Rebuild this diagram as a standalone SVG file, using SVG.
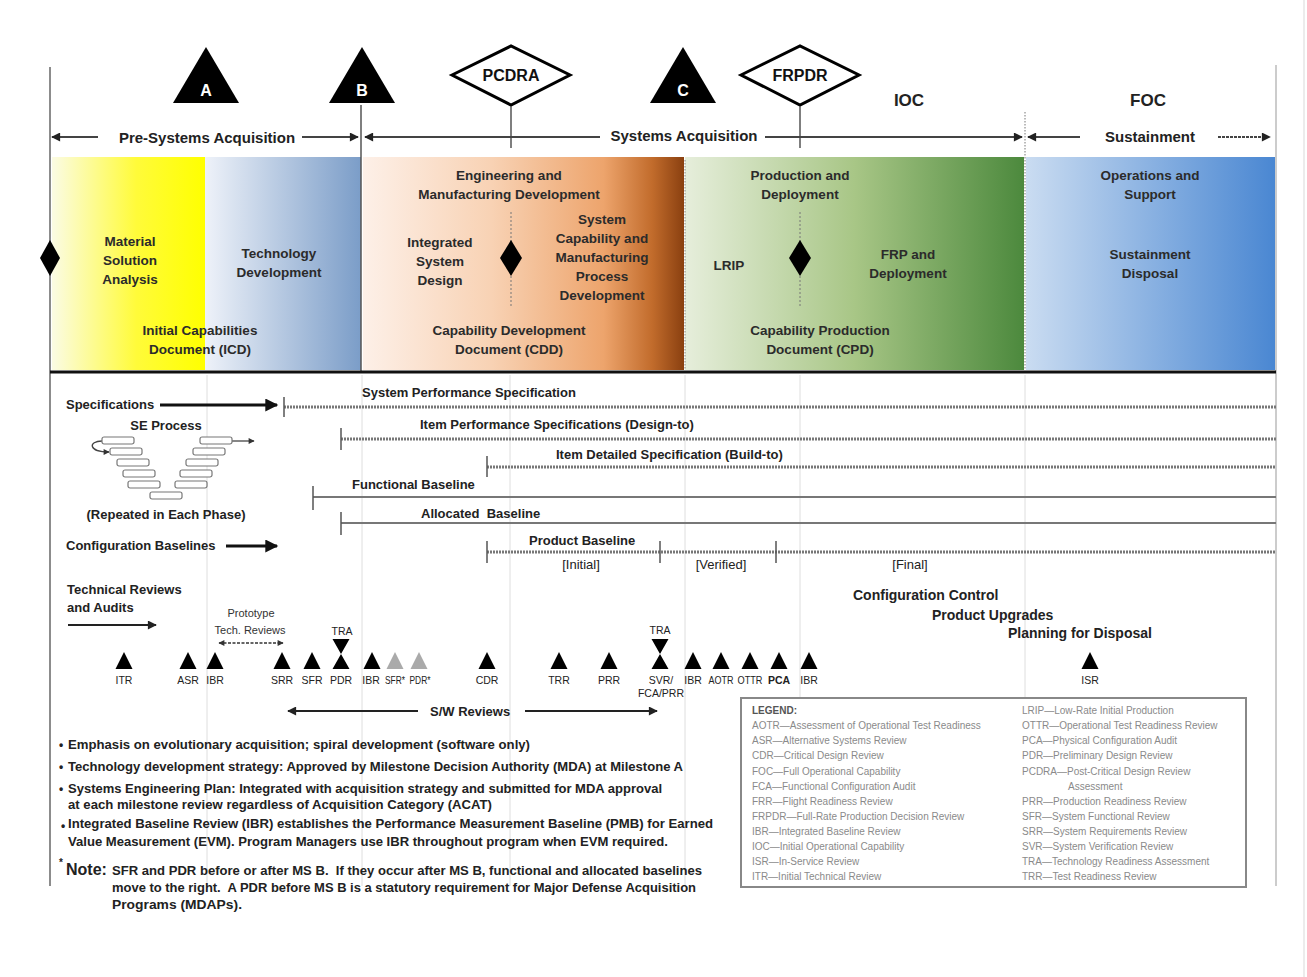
<svg xmlns="http://www.w3.org/2000/svg" width="1307" height="977" viewBox="0 0 1307 977">
<defs>
  <linearGradient id="gYel" x1="0" y1="0" x2="1" y2="0">
    <stop offset="0" stop-color="#fbfbe4"/><stop offset="0.55" stop-color="#fffb3a"/><stop offset="1" stop-color="#ffff00"/>
  </linearGradient>
  <linearGradient id="gTech" x1="0" y1="0" x2="1" y2="0">
    <stop offset="0" stop-color="#eef2f9"/><stop offset="1" stop-color="#7b9dc8"/>
  </linearGradient>
  <linearGradient id="gEmd" x1="0" y1="0" x2="1" y2="0">
    <stop offset="0" stop-color="#fdf0e8"/><stop offset="0.4" stop-color="#f8d2b4"/><stop offset="0.75" stop-color="#eda46c"/><stop offset="0.9" stop-color="#c26c2c"/><stop offset="1" stop-color="#8a4010"/>
  </linearGradient>
  <linearGradient id="gProd" x1="0" y1="0" x2="1" y2="0">
    <stop offset="0" stop-color="#e6eedb"/><stop offset="0.5" stop-color="#a8c686"/><stop offset="1" stop-color="#4c893d"/>
  </linearGradient>
  <linearGradient id="gSust" x1="0" y1="0" x2="1" y2="0">
    <stop offset="0" stop-color="#cadcf1"/><stop offset="1" stop-color="#4a87d2"/>
  </linearGradient>
  <marker id="ah" viewBox="0 0 10 10" refX="9" refY="5" markerWidth="10" markerHeight="9" markerUnits="userSpaceOnUse" orient="auto-start-reverse">
    <path d="M0,0 L10,5 L0,10 z" fill="#222"/>
  </marker>
  <marker id="ahb" viewBox="0 0 10 10" refX="9" refY="5" markerWidth="14" markerHeight="13" markerUnits="userSpaceOnUse" orient="auto-start-reverse">
    <path d="M0,0 L10,5 L0,10 z" fill="#111"/>
  </marker>
  <marker id="ahs" viewBox="0 0 10 10" refX="9" refY="5" markerWidth="7" markerHeight="6" markerUnits="userSpaceOnUse" orient="auto-start-reverse">
    <path d="M0,0 L10,5 L0,10 z" fill="#333"/>
  </marker>
  <path id="tri" d="M0,-17 L8.5,0 L-8.5,0 Z"/>
  <path id="hg" d="M-8.5,-30 H8.5 L0,-15 Z M0,-15 L8.5,0 H-8.5 Z"/>
  <rect id="vb" width="32" height="7" rx="2"/>
</defs>
<style>
  text{font-family:"Liberation Sans",Arial,Helvetica,sans-serif;}
  .ms{font-size:16px;font-weight:bold;fill:#fff;text-anchor:middle}
  .dm{font-size:16px;font-weight:bold;fill:#111;text-anchor:middle}
  .hd{font-size:15px;font-weight:bold;fill:#222;text-anchor:middle}
  .big{font-size:17px;font-weight:bold;fill:#222;text-anchor:middle}
  .ph{font-size:13.5px;font-weight:bold;fill:#2b2b2b;text-anchor:middle}
  .sp{font-size:13px;font-weight:bold;fill:#222}
  .spc{font-size:13px;font-weight:bold;fill:#222;text-anchor:middle}
  .rv{font-size:10.5px;fill:#222;text-anchor:middle}
  .pt{font-size:11px;fill:#333;text-anchor:middle}
  .cc{font-size:14px;font-weight:bold;fill:#222}
  .lg{font-size:10px;fill:#8a8a8a}
  .nt{font-size:12px;font-weight:bold;fill:#222}
  .grid{stroke:#dedede;stroke-width:1}
  .frame{stroke:#666;stroke-width:1.5;fill:none}
  .arr{stroke:#444;stroke-width:2;fill:none}
  .tick{stroke:#555;stroke-width:1.5}
  .specl{stroke:#777;stroke-width:3;stroke-dasharray:2 1;fill:none}
  .basel{stroke:#777;stroke-width:2;fill:none}
  .vbox{fill:#fff;stroke:#777;stroke-width:1.2}
</style>

<!-- faint right border -->
<line x1="1304" y1="0" x2="1304" y2="977" stroke="#e6e6e6" stroke-width="1.5"/>

<!-- background grid lines in lower section -->
<g id="gridlines">
  <line class="grid" x1="207" y1="375" x2="207" y2="886"/>
  <line class="grid" x1="362" y1="375" x2="362" y2="886"/>
  <line class="grid" x1="510" y1="375" x2="510" y2="886"/>
  <line class="grid" x1="685" y1="375" x2="685" y2="886"/>
  <line class="grid" x1="800" y1="375" x2="800" y2="886"/>
  <line class="grid" x1="1025" y1="375" x2="1025" y2="886"/>
</g>

<!-- phase bands -->
<g id="phase-msa">
  <rect x="52" y="157" width="153" height="213" fill="url(#gYel)"/>
  <text class="ph" x="130" y="246">Material</text>
  <text class="ph" x="130" y="265">Solution</text>
  <text class="ph" x="130" y="284">Analysis</text>
</g>
<g id="phase-td">
  <rect x="205" y="157" width="156" height="213" fill="url(#gTech)"/>
  <text class="ph" x="279" y="258">Technology</text>
  <text class="ph" x="279" y="277">Development</text>
</g>
<g id="doc-icd">
  <text class="ph" x="200" y="335">Initial Capabilities</text>
  <text class="ph" x="200" y="354">Document (ICD)</text>
</g>
<g id="phase-emd">
  <rect x="363" y="157" width="321" height="213" fill="url(#gEmd)"/>
  <text class="ph" x="509" y="180">Engineering and</text>
  <text class="ph" x="509" y="199">Manufacturing Development</text>
  <text class="ph" x="440" y="247">Integrated</text>
  <text class="ph" x="440" y="266">System</text>
  <text class="ph" x="440" y="285">Design</text>
  <text class="ph" x="602" y="224">System</text>
  <text class="ph" x="602" y="243">Capability and</text>
  <text class="ph" x="602" y="262">Manufacturing</text>
  <text class="ph" x="602" y="281">Process</text>
  <text class="ph" x="602" y="300">Development</text>
  <text class="ph" x="509" y="335">Capability Development</text>
  <text class="ph" x="509" y="354">Document (CDD)</text>
  <line x1="511" y1="212" x2="511" y2="308" stroke="#777" stroke-width="1" stroke-dasharray="2 2"/>
  <polygon points="511,240 522,258 511,276 500,258" fill="#000"/>
</g>
<g id="phase-pd">
  <rect x="685" y="157" width="339" height="213" fill="url(#gProd)"/>
  <line x1="685" y1="160" x2="685" y2="370" stroke="#888" stroke-width="1" stroke-dasharray="1.5 1.5"/>
  <text class="ph" x="800" y="180">Production and</text>
  <text class="ph" x="800" y="199">Deployment</text>
  <line x1="800" y1="212" x2="800" y2="306" stroke="#777" stroke-width="1" stroke-dasharray="2 2"/>
  <polygon points="800,240 811,258 800,276 789,258" fill="#000"/>
  <text class="ph" x="729" y="270">LRIP</text>
  <text class="ph" x="908" y="259">FRP and</text>
  <text class="ph" x="908" y="278">Deployment</text>
  <text class="ph" x="820" y="335">Capability Production</text>
  <text class="ph" x="820" y="354">Document (CPD)</text>
</g>
<g id="phase-os">
  <rect x="1026" y="157" width="249" height="213" fill="url(#gSust)"/>
  <line x1="1025" y1="112" x2="1025" y2="370" stroke="#777" stroke-width="1" stroke-dasharray="1.5 1.5"/>
  <text class="ph" x="1150" y="180">Operations and</text>
  <text class="ph" x="1150" y="199">Support</text>
  <text class="ph" x="1150" y="259">Sustainment</text>
  <text class="ph" x="1150" y="278">Disposal</text>
</g>

<!-- frame lines -->
<g id="frame">
  <line class="frame" x1="50" y1="67" x2="50" y2="886"/>
  <line x1="1276" y1="65" x2="1276" y2="886" stroke="#bbb" stroke-width="1.5"/>
  <line x1="361" y1="105" x2="361" y2="372" stroke="#555" stroke-width="1.5"/>
  <line x1="50" y1="372" x2="1276" y2="372" stroke="#111" stroke-width="3"/>
  <polygon points="50,240 60,258 50,276 40,258" fill="#000"/>
</g>

<!-- milestones -->
<g id="ms-a">
  <polygon points="206,47 239,103 173,103" fill="#000"/>
  <text class="ms" x="206" y="96">A</text>
</g>
<g id="ms-b">
  <polygon points="362,47 395,103 329,103" fill="#000"/>
  <text class="ms" x="362" y="96">B</text>
</g>
<g id="ms-pcdra">
  <polygon points="452,75 511,46 570,75 511,105" fill="#fff" stroke="#000" stroke-width="3" stroke-linejoin="miter"/>
  <text class="dm" x="511" y="81">PCDRA</text>
  <line x1="511" y1="106" x2="511" y2="148" stroke="#555" stroke-width="1.5"/>
</g>
<g id="ms-c">
  <polygon points="683,47 716,103 650,103" fill="#000"/>
  <text class="ms" x="683" y="96">C</text>
</g>
<g id="ms-frpdr">
  <polygon points="741,75 800,46 859,75 800,105" fill="#fff" stroke="#000" stroke-width="3"/>
  <text class="dm" x="800" y="81">FRPDR</text>
  <line x1="800" y1="106" x2="800" y2="148" stroke="#555" stroke-width="1.5"/>
</g>
<g id="ioc"><text class="big" x="909" y="106">IOC</text></g>
<g id="foc"><text class="big" x="1148" y="106">FOC</text></g>

<!-- acquisition span labels -->
<g id="span-labels">
  <text class="hd" x="207" y="143">Pre-Systems Acquisition</text>
  <text class="hd" x="684" y="141">Systems Acquisition</text>
  <text class="hd" x="1150" y="142">Sustainment</text>
</g>

<!-- connectors -->
<g id="connectors">
  <line class="arr" x1="98" y1="137" x2="52" y2="137" marker-end="url(#ah)"/>
  <line class="arr" x1="302" y1="137" x2="358" y2="137" marker-end="url(#ah)"/>
  <line class="arr" x1="600" y1="137" x2="365" y2="137" marker-end="url(#ah)"/>
  <line class="arr" x1="765" y1="137" x2="1022" y2="137" marker-end="url(#ah)"/>
  <line class="arr" x1="1080" y1="137" x2="1028" y2="137" marker-end="url(#ah)"/>
  <line class="arr" x1="1218" y1="137" x2="1270" y2="137" stroke-dasharray="3 1" marker-end="url(#ah)"/>

  <line x1="160" y1="405" x2="277" y2="405" stroke="#111" stroke-width="3" marker-end="url(#ahb)"/>
  <line x1="226" y1="546" x2="277" y2="546" stroke="#111" stroke-width="3" marker-end="url(#ahb)"/>
  <line x1="68" y1="625" x2="156" y2="625" stroke="#222" stroke-width="2" marker-end="url(#ah)"/>
  <line x1="219" y1="643" x2="283" y2="643" stroke="#333" stroke-width="1.5" stroke-dasharray="3 1.5" marker-start="url(#ahs)" marker-end="url(#ahs)"/>
  <line x1="418" y1="711" x2="288" y2="711" stroke="#222" stroke-width="2" marker-end="url(#ah)"/>
  <line x1="525" y1="711" x2="657" y2="711" stroke="#222" stroke-width="2" marker-end="url(#ah)"/>

  <!-- SE process V arrows -->
  <path d="M102,441 C88,441 88,452 109,452" fill="none" stroke="#444" stroke-width="1.3" marker-end="url(#ahs)"/>
  <line x1="232" y1="441" x2="254" y2="441" stroke="#444" stroke-width="1.3" marker-end="url(#ahs)"/>
</g>

<!-- specifications -->
<g id="specifications">
  <text class="sp" x="66" y="409">Specifications</text>
  <text class="sp" x="362" y="397">System Performance Specification</text>
  <line class="specl" x1="284" y1="407" x2="1276" y2="407"/>
  <line class="tick" x1="284" y1="397" x2="284" y2="417"/>
  <text class="sp" x="420" y="429">Item Performance Specifications (Design-to)</text>
  <line class="specl" x1="341" y1="439" x2="1276" y2="439"/>
  <line class="tick" x1="341" y1="428" x2="341" y2="450"/>
  <text class="sp" x="556" y="459">Item Detailed Specification (Build-to)</text>
  <line class="specl" x1="487" y1="467" x2="1276" y2="467"/>
  <line class="tick" x1="487" y1="456" x2="487" y2="477"/>
</g>

<g id="se-process">
  <text class="spc" x="166" y="430">SE Process</text>
  <use href="#vb" class="vbox" x="102" y="437"/>
  <use href="#vb" class="vbox" x="110" y="448"/>
  <use href="#vb" class="vbox" x="117" y="459"/>
  <use href="#vb" class="vbox" x="123" y="470"/>
  <use href="#vb" class="vbox" x="128" y="481"/>
  <use href="#vb" class="vbox" x="150" y="492"/>
  <use href="#vb" class="vbox" x="175" y="481"/>
  <use href="#vb" class="vbox" x="180" y="470"/>
  <use href="#vb" class="vbox" x="186" y="459"/>
  <use href="#vb" class="vbox" x="193" y="448"/>
  <use href="#vb" class="vbox" x="200" y="437"/>
  <text class="spc" x="166" y="519">(Repeated in Each Phase)</text>
</g>

<g id="baselines">
  <text class="sp" x="66" y="550">Configuration Baselines</text>
  <text class="sp" x="352" y="489">Functional Baseline</text>
  <line class="basel" x1="313" y1="497" x2="1276" y2="497"/>
  <line class="tick" x1="313" y1="486" x2="313" y2="510"/>
  <text class="sp" x="421" y="518" xml:space="preserve">Allocated  Baseline</text>
  <line class="basel" x1="341" y1="523" x2="1276" y2="523"/>
  <line class="tick" x1="341" y1="512" x2="341" y2="535"/>
  <text class="sp" x="529" y="545">Product Baseline</text>
  <line class="specl" x1="487" y1="552" x2="1276" y2="552"/>
  <line class="tick" x1="487" y1="541" x2="487" y2="563"/>
  <line class="tick" x1="660" y1="541" x2="660" y2="563"/>
  <line class="tick" x1="776" y1="541" x2="776" y2="563"/>
  <text class="spc" x="581" y="569" style="font-weight:normal">[Initial]</text>
  <text class="spc" x="721" y="569" style="font-weight:normal">[Verified]</text>
  <text class="spc" x="910" y="569" style="font-weight:normal">[Final]</text>
</g>

<!-- technical reviews -->
<g id="tech-reviews">
  <text class="sp" x="67" y="594">Technical Reviews</text>
  <text class="sp" x="67" y="612">and Audits</text>
  <text class="pt" x="251" y="617">Prototype</text>
  <text class="pt" x="250" y="634">Tech. Reviews</text>

  <use href="#tri" x="124" y="669"/><text class="rv" x="124" y="684">ITR</text>
  <use href="#tri" x="188" y="669"/><text class="rv" x="188" y="684">ASR</text>
  <use href="#tri" x="215" y="669"/><text class="rv" x="215" y="684">IBR</text>
  <use href="#tri" x="282" y="669"/><text class="rv" x="282" y="684">SRR</text>
  <use href="#tri" x="312" y="669"/><text class="rv" x="312" y="684">SFR</text>
  <text class="rv" x="342" y="635">TRA</text>
  <use href="#hg" x="341" y="669"/><text class="rv" x="341" y="684">PDR</text>
  <use href="#tri" x="372" y="669"/><text class="rv" x="371" y="684">IBR</text>
  <use href="#tri" x="395" y="669" fill="#aaa"/><text class="rv" x="395" y="684" textLength="20" lengthAdjust="spacingAndGlyphs">SFR*</text>
  <use href="#tri" x="419" y="669" fill="#aaa"/><text class="rv" x="420" y="684" textLength="21" lengthAdjust="spacingAndGlyphs">PDR*</text>
  <use href="#tri" x="487" y="669"/><text class="rv" x="487" y="684">CDR</text>
  <use href="#tri" x="559" y="669"/><text class="rv" x="559" y="684">TRR</text>
  <use href="#tri" x="609" y="669"/><text class="rv" x="609" y="684">PRR</text>
  <text class="rv" x="660" y="634">TRA</text>
  <use href="#hg" x="660" y="669"/><text class="rv" x="661" y="684">SVR/</text>
  <text class="rv" x="661" y="697">FCA/PRR</text>
  <use href="#tri" x="693" y="669"/><text class="rv" x="693" y="684">IBR</text>
  <use href="#tri" x="721" y="669"/><text class="rv" x="721" y="684" textLength="25" lengthAdjust="spacingAndGlyphs">AOTR</text>
  <use href="#tri" x="750" y="669"/><text class="rv" x="750" y="684" textLength="25" lengthAdjust="spacingAndGlyphs">OTTR</text>
  <use href="#tri" x="779" y="669"/><text class="rv" x="779" y="684" font-weight="bold">PCA</text>
  <use href="#tri" x="809" y="669"/><text class="rv" x="809" y="684">IBR</text>
  <use href="#tri" x="1090" y="669"/><text class="rv" x="1090" y="684">ISR</text>
  <text class="sp" x="430" y="716">S/W Reviews</text>
</g>

<g id="sustainment-activities">
  <text class="cc" x="853" y="600">Configuration Control</text>
  <text class="cc" x="932" y="620">Product Upgrades</text>
  <text class="cc" x="1008" y="638">Planning for Disposal</text>
</g>

<!-- legend -->
<g id="legend">
  <rect x="741" y="698" width="505" height="189" fill="#fff" stroke="#888" stroke-width="2"/>
  <text class="lg" x="752" y="714" style="font-weight:bold;fill:#555">LEGEND:</text>
  <text class="lg" x="752" y="729">AOTR—Assessment of Operational Test Readiness</text>
  <text class="lg" x="752" y="744">ASR—Alternative Systems Review</text>
  <text class="lg" x="752" y="759">CDR—Critical Design Review</text>
  <text class="lg" x="752" y="775">FOC—Full Operational Capability</text>
  <text class="lg" x="752" y="790">FCA—Functional Configuration Audit</text>
  <text class="lg" x="752" y="805">FRR—Flight Readiness Review</text>
  <text class="lg" x="752" y="820">FRPDR—Full-Rate Production Decision Review</text>
  <text class="lg" x="752" y="835">IBR—Integrated Baseline Review</text>
  <text class="lg" x="752" y="850">IOC—Initial Operational Capability</text>
  <text class="lg" x="752" y="865">ISR—In-Service Review</text>
  <text class="lg" x="752" y="880">ITR—Initial Technical Review</text>
  <text class="lg" x="1022" y="714">LRIP—Low-Rate Initial Production</text>
  <text class="lg" x="1022" y="729">OTTR—Operational Test Readiness Review</text>
  <text class="lg" x="1022" y="744">PCA—Physical Configuration Audit</text>
  <text class="lg" x="1022" y="759">PDR—Preliminary Design Review</text>
  <text class="lg" x="1022" y="775">PCDRA—Post-Critical Design Review</text>
  <text class="lg" x="1068" y="790">Assessment</text>
  <text class="lg" x="1022" y="805">PRR—Production Readiness Review</text>
  <text class="lg" x="1022" y="820">SFR—System Functional Review</text>
  <text class="lg" x="1022" y="835">SRR—System Requirements Review</text>
  <text class="lg" x="1022" y="850">SVR—System Verification Review</text>
  <text class="lg" x="1022" y="865">TRA—Technology Readiness Assessment</text>
  <text class="lg" x="1022" y="880">TRR—Test Readiness Review</text>
</g>

<!-- notes -->
<g id="notes">
  <text class="nt" x="59" y="749">•</text>
  <text class="nt" x="68" y="749" textLength="462" lengthAdjust="spacingAndGlyphs">Emphasis on evolutionary acquisition; spiral development (software only)</text>
  <text class="nt" x="59" y="771">•</text>
  <text class="nt" x="68" y="771" textLength="615" lengthAdjust="spacingAndGlyphs">Technology development strategy: Approved by Milestone Decision Authority (MDA) at Milestone A</text>
  <text class="nt" x="59" y="793">•</text>
  <text class="nt" x="68" y="793" textLength="594" lengthAdjust="spacingAndGlyphs">Systems Engineering Plan: Integrated with acquisition strategy and submitted for MDA approval</text>
  <text class="nt" x="68" y="809" textLength="424" lengthAdjust="spacingAndGlyphs">at each milestone review regardless of Acquisition Category (ACAT)</text>
  <text class="nt" x="61" y="830">•</text>
  <text class="nt" x="68" y="828" textLength="645" lengthAdjust="spacingAndGlyphs">Integrated Baseline Review (IBR) establishes the Performance Measurement Baseline (PMB) for Earned</text>
  <text class="nt" x="68" y="846" textLength="600" lengthAdjust="spacingAndGlyphs">Value Measurement (EVM). Program Managers use IBR throughout program when EVM required.</text>
  <text x="59" y="866" style="font-size:10px;font-weight:bold;fill:#222">*</text>
  <text x="66" y="875" style="font-size:16px;font-weight:bold;fill:#222">Note:</text>
  <text class="nt" x="112" y="875" textLength="590" lengthAdjust="spacingAndGlyphs" xml:space="preserve">SFR and PDR before or after MS B.  If they occur after MS B, functional and allocated baselines</text>
  <text class="nt" x="112" y="892" textLength="584" lengthAdjust="spacingAndGlyphs" xml:space="preserve">move to the right.  A PDR before MS B is a statutory requirement for Major Defense Acquisition</text>
  <text class="nt" x="112" y="909" textLength="130" lengthAdjust="spacingAndGlyphs">Programs (MDAPs).</text>
</g>
</svg>
